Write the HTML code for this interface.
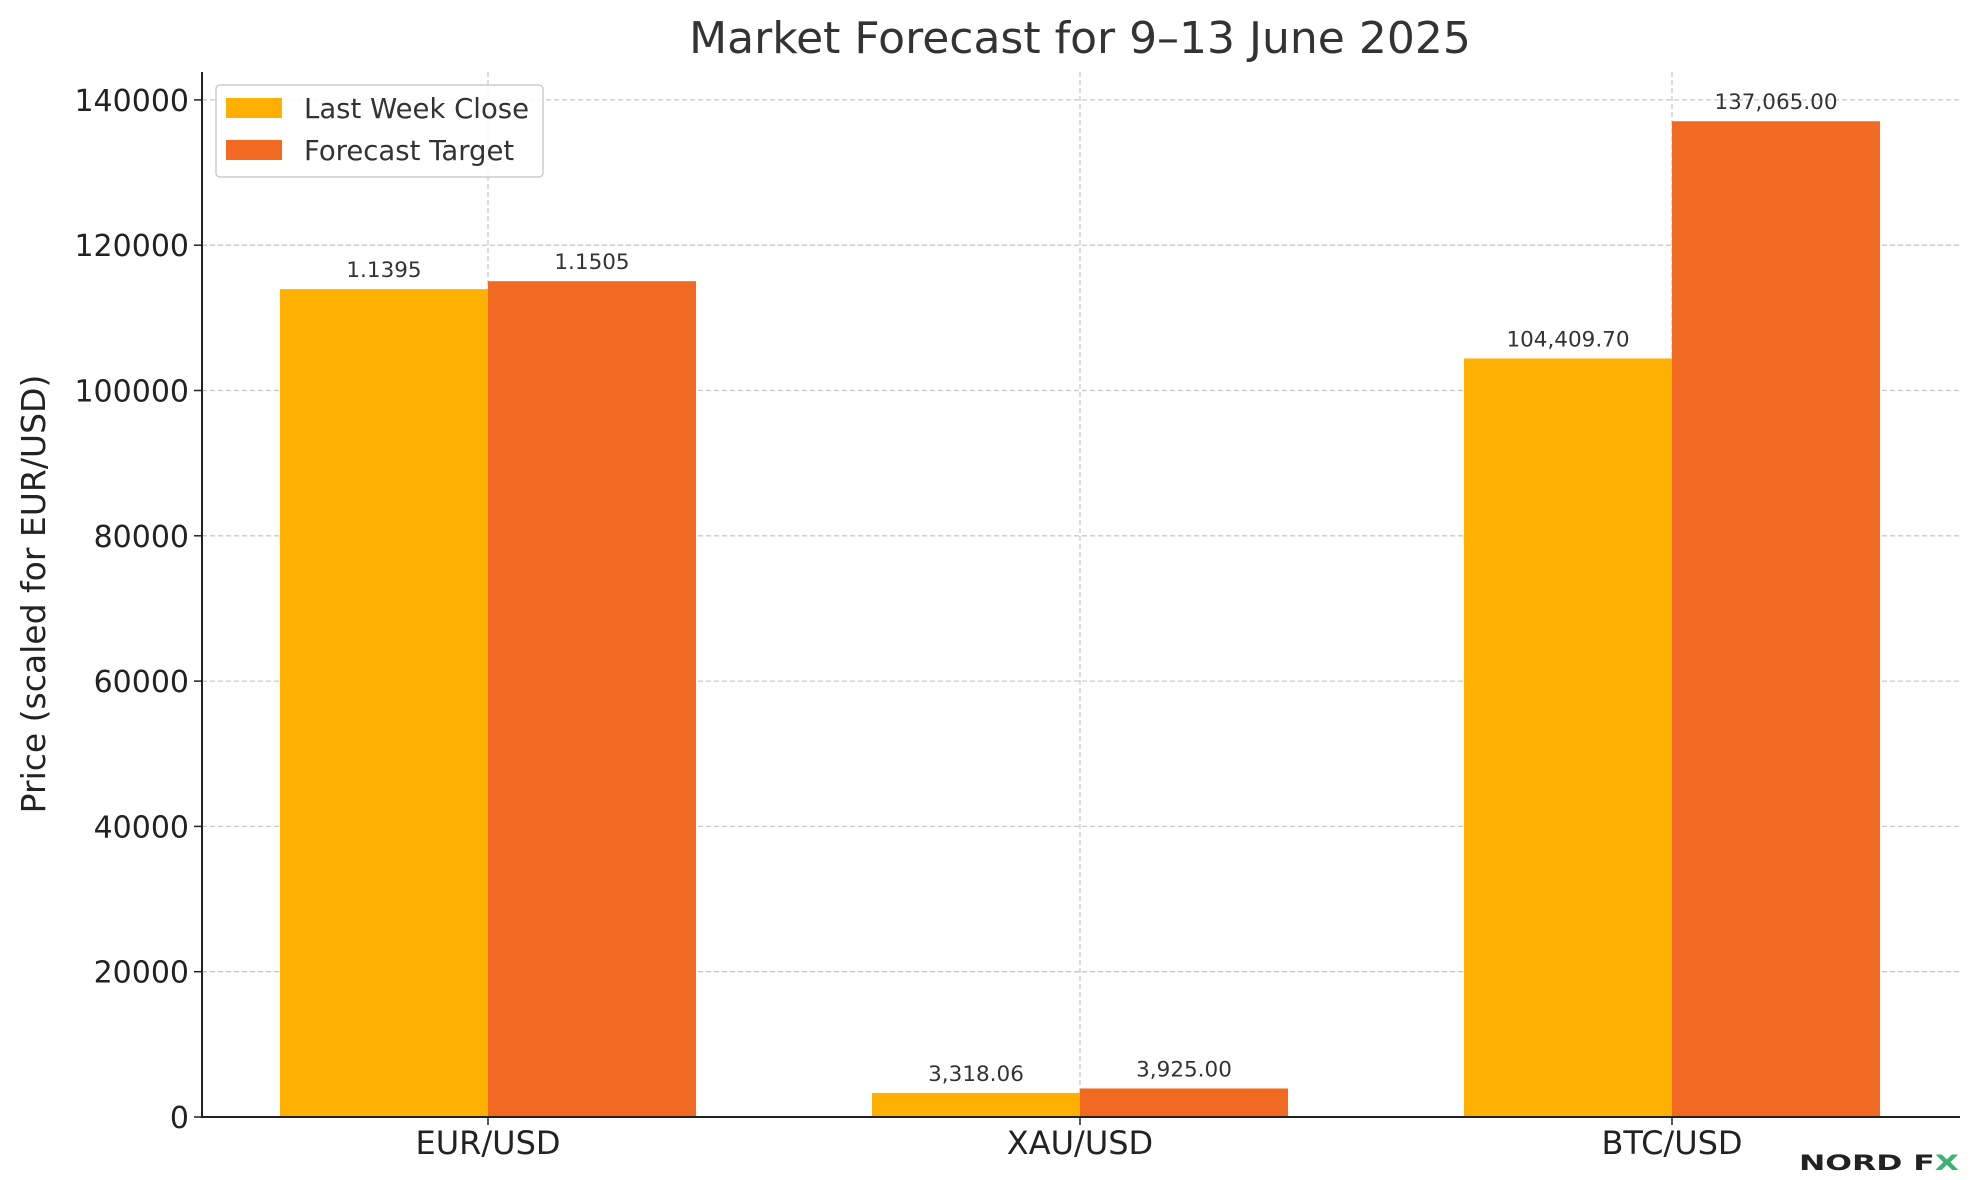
<!DOCTYPE html>
<html><head><meta charset="utf-8"><style>
html,body{margin:0;padding:0;background:#fff;}
svg{display:block;font-family:"DejaVu Sans","Liberation Sans",sans-serif;}
</style></head><body>
<svg id="chart" width="1979" height="1180" viewBox="0 0 1979 1180">
<text x="1080" y="53" font-size="44" fill="#333" text-anchor="middle">Market Forecast for 9–13 June 2025</text>
<g id="grid"></g><g id="bars"></g><g id="labels"></g><g id="axes"></g>
<text transform="translate(45,594) rotate(-90)" font-size="33" fill="#222" text-anchor="middle">Price (scaled for EUR/USD)</text>
<g>
<rect x="216" y="85" width="327" height="92" rx="4" fill="#fff" fill-opacity="0.85" stroke="#ccc" stroke-width="1.5"/>
<rect x="226" y="98" width="56" height="20" fill="#FFB000"/>
<text x="304" y="118" font-size="27.5" fill="#333">Last Week Close</text>
<rect x="226" y="140" width="56" height="20" fill="#F26A22"/>
<text x="304" y="160" font-size="27.5" fill="#333">Forecast Target</text>
</g>
<g>
<text x="1799" y="1170" font-size="21" font-weight="bold" fill="#222" textLength="160" lengthAdjust="spacingAndGlyphs">NORD F<tspan fill="#3cb371">X</tspan></text>
</g>
</svg>
<script>
const categories = ["EUR/USD","XAU/USD","BTC/USD"];
const lastWeek = [113950, 3318.06, 104409.70];
const forecast = [115050, 3925.00, 137065.00];
const lastWeekLabels = ["1.1395","3,318.06","104,409.70"];
const forecastLabels = ["1.1505","3,925.00","137,065.00"];
const yTicks = [0,20000,40000,60000,80000,100000,120000,140000];

const NS="http://www.w3.org/2000/svg";
const L=202,R=1960,T=72,Y0=1117,PER=145.3/20000;
const y=v=>Y0-v*PER;
const xc=i=>488+i*592;
const BW=208;
function mk(tag,attrs,parent){const e=document.createElementNS(NS,tag);for(const k in attrs)e.setAttribute(k,attrs[k]);parent.appendChild(e);return e;}
const grid=document.getElementById('grid'),bars=document.getElementById('bars'),labels=document.getElementById('labels'),axes=document.getElementById('axes');
yTicks.forEach(t=>{
  if(t>0){const g=mk('line',{x1:L,x2:R,y1:y(t),y2:y(t),stroke:'#c8c8c8','stroke-width':1.3,'stroke-dasharray':'5,3'},grid);
  
  }
  const tk=mk('line',{x1:L-8,x2:L,y1:y(t),y2:y(t),stroke:'#222','stroke-width':1.5},axes);
  
  
  const tl=mk('text',{x:L-13,y:y(t)+11,'font-size':30,fill:'#222','text-anchor':'end'},axes);
  tl.textContent=t;
  
  
});
categories.forEach((c,i)=>{
  const vg=mk('line',{x1:xc(i),x2:xc(i),y1:T,y2:Y0,stroke:'#c8c8c8','stroke-width':1.3,'stroke-dasharray':'5,3'},grid);
  
  
  const b1=mk('rect',{x:xc(i)-BW,y:y(lastWeek[i]),width:BW,height:Y0-y(lastWeek[i]),fill:'#FFB000'},bars);
  
  
  const b2=mk('rect',{x:xc(i),y:y(forecast[i]),width:BW,height:Y0-y(forecast[i]),fill:'#F26A22'},bars);
  
  
  const l1=mk('text',{x:xc(i)-BW/2,y:y(lastWeek[i])-12,'font-size':21.5,fill:'#333','text-anchor':'middle'},labels);
  l1.textContent=lastWeekLabels[i];
  
  
  const l2=mk('text',{x:xc(i)+BW/2,y:y(forecast[i])-12,'font-size':21.5,fill:'#333','text-anchor':'middle'},labels);
  l2.textContent=forecastLabels[i];
  
  
  const xt=mk('line',{x1:xc(i),x2:xc(i),y1:Y0,y2:Y0+8,stroke:'#222','stroke-width':1.5},axes);
  
  
  const xl=mk('text',{x:xc(i),y:Y0+37,'font-size':32,fill:'#222','text-anchor':'middle'},axes);
  xl.textContent=c;
  
  
});
const ax1=mk('line',{x1:L,x2:L,y1:T,y2:Y0+1,stroke:'#222','stroke-width':2},axes);


const ax2=mk('line',{x1:L-1,x2:R,y1:Y0,y2:Y0,stroke:'#222','stroke-width':2},axes);


</script>
</body></html>
